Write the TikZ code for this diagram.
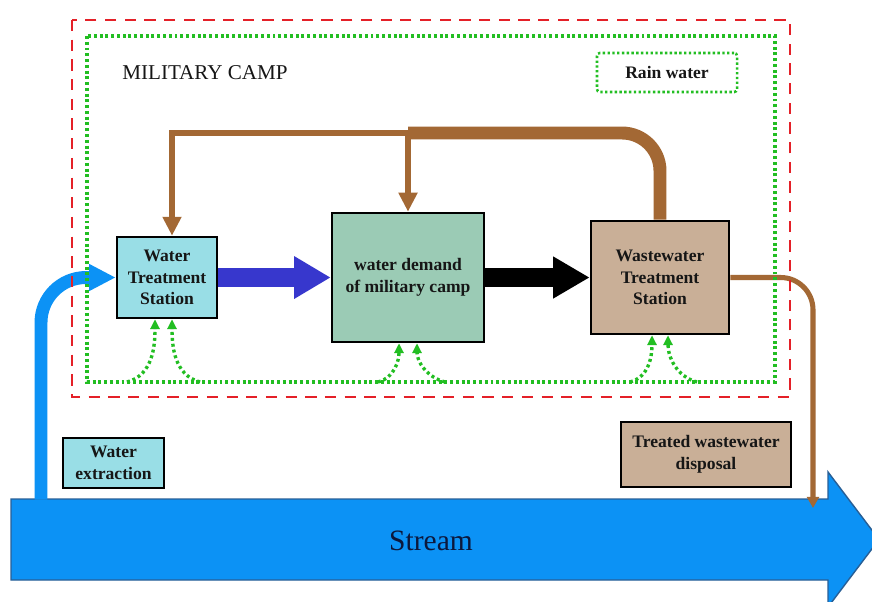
\documentclass[tikz,border=0pt]{standalone}
\usepackage{fontspec}
\setmainfont{Liberation Serif}
\usetikzlibrary{arrows.meta,calc}
\definecolor{redd}{RGB}{228,32,40}
\definecolor{grn}{RGB}{34,190,34}
\definecolor{brwn}{RGB}{163,104,52}
\definecolor{bluearr}{RGB}{55,55,205}
\definecolor{strm}{RGB}{12,146,245}
\definecolor{strmedge}{RGB}{40,95,150}
\definecolor{cyanbox}{RGB}{153,222,230}
\definecolor{greenbox}{RGB}{155,203,181}
\definecolor{tanbox}{RGB}{201,175,151}
\definecolor{txt}{RGB}{22,22,22}
\definecolor{strmtxt}{RGB}{12,24,60}
\begin{document}
\begin{tikzpicture}[x=0.025cm,y=-0.025cm,
  box/.style={draw=black, line width=1.8pt, align=center, inner sep=0pt,
    font=\fontsize{12.5pt}{15.5pt}\selectfont\bfseries, text=txt},
  redbox/.style={draw=redd, line width=1.9pt, dash pattern=on 8pt off 6pt},
  greenbox/.style={draw=grn, line width=2.3pt, dash pattern=on 2.1pt off 2pt},
  greenarrow/.style={draw=grn, line width=2.4pt, dash pattern=on 2.1pt off 2.1pt,
    -{Triangle[length=7pt,width=6.5pt,fill=grn]}},
  brownthick/.style={draw=brwn, line width=9.2pt},
  brownthin/.style={draw=brwn, line width=3.6pt},
  brownhead/.style={-{Triangle[length=13.5pt,width=12.8pt]}},
]
\useasboundingbox (0,0) rectangle (872,601);
\clip (0,0) rectangle (872,601);
\fill[white] (0,0) rectangle (872,601);

% stream
\filldraw[fill=strm, draw=strmedge, line width=1pt]
  (11,499) -- (828,499) -- (828,472) -- (879,539.5) -- (828,607) -- (828,580) -- (11,580) -- cycle;
\node[text=strmtxt, font=\fontsize{21pt}{24pt}\selectfont] (stream) at (431,541) {Stream};

% boxes
\node[box, fill=cyanbox, minimum width=2.5cm, minimum height=2.025cm] (wts) at (167,277.5)
  {Water\\Treatment\\Station};
\node[box, fill=greenbox, minimum width=3.8cm, minimum height=3.225cm] (dem) at (408,277.5)
  {water demand\\of military camp};
\node[box, fill=tanbox, minimum width=3.45cm, minimum height=2.825cm] (wws) at (660,277.5)
  {Wastewater\\Treatment\\Station};
\node[box, fill=cyanbox, minimum width=2.525cm, minimum height=1.25cm] (ext) at (113.5,463)
  {Water\\extraction};
\node[box, fill=tanbox, minimum width=4.25cm, minimum height=1.625cm] (disp) at (706,454.5)
  {Treated wastewater\\disposal};

% main flow arrows
\draw[bluearr, line width=13.5pt, -{Triangle[length=26pt,width=28.5pt]}] (wts.east) -- (dem.west);
\draw[black, line width=14pt, -{Triangle[length=26pt,width=28pt]}] (dem.east) -- (wws.west);

% water extraction
\coordinate (extbase) at (41,499.5);
\draw[strm, line width=9.2pt, rounded corners=32pt, -{Triangle[length=19pt,width=18pt]}]
  (extbase) |- (wts.west);

% recycled water (brown)
\coordinate (jn) at (408,133);
\draw[brownthick, rounded corners=27pt] (wws.north) |- (jn);
\draw[brownthin, brownhead] (jn) -| ($(wts.north)+(5,0)$);
\draw[brownthin, brownhead] (jn) -- (dem.north);
\coordinate (dispend) at (813,508);
\draw[brownthin, rounded corners=23pt, -{Triangle[length=8pt,width=8.5pt]}] (wws.east) -| (dispend);

% rain water arrows
\coordinate (g1) at (127,382);
\coordinate (g2) at (200,382);
\coordinate (g3) at (378,382);
\coordinate (g4) at (445,382);
\coordinate (g5) at (630,382);
\coordinate (g6) at (697,382);
\draw[greenarrow] (g1) to[out=15,in=-90] ($(wts.south)+(-12,0)$);
\draw[greenarrow] (g2) to[out=165,in=-90] ($(wts.south)+(5,0)$);
\draw[greenarrow] (g3) to[out=15,in=-90] ($(dem.south)+(-9,0)$);
\draw[greenarrow] (g4) to[out=165,in=-90] ($(dem.south)+(9,0)$);
\draw[greenarrow] (g5) to[out=15,in=-90] ($(wws.south)+(-8,0)$);
\draw[greenarrow] (g6) to[out=165,in=-90] ($(wws.south)+(8,0)$);

% boundaries
\draw[redbox] (72,20) rectangle (790,397);
\draw[greenbox] (87,36) rectangle (775,382);
\node[font=\fontsize{15pt}{18pt}\selectfont, text=txt] (camp) at (205,73) {MILITARY CAMP};
\node[draw=grn, line width=1.8pt, dash pattern=on 1.7pt off 1.7pt, rounded corners=2pt,
  minimum width=3.5cm, minimum height=0.975cm, inner sep=0pt,
  font=\fontsize{12.5pt}{15pt}\selectfont\bfseries, text=txt] (rain) at (667,72.5) {Rain water};
\end{tikzpicture}
\end{document}
